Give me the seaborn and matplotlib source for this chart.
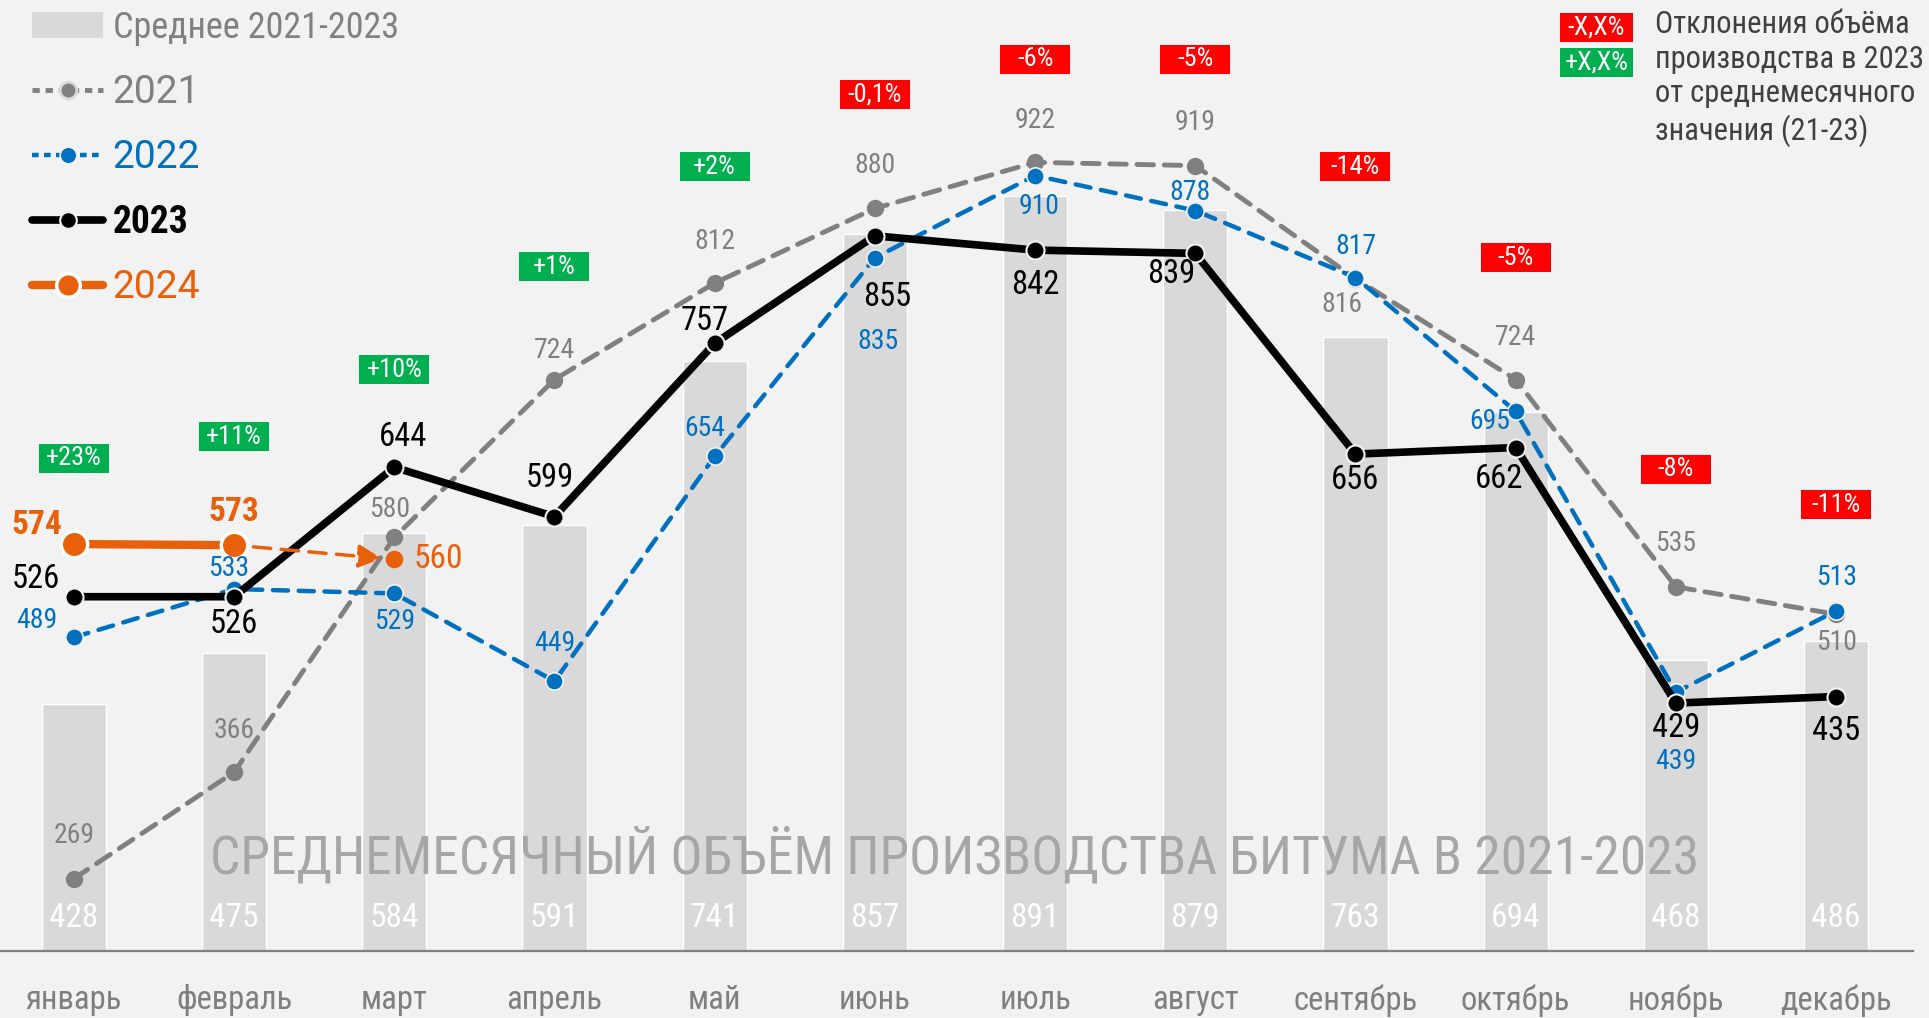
import matplotlib
matplotlib.use("Agg")
import matplotlib.pyplot as plt
import seaborn as sns
import numpy as np
import pandas as pd
from matplotlib import font_manager as fm
from matplotlib.patches import Rectangle, Patch
from matplotlib.lines import Line2D

# --- data ---
months = ["январь", "февраль", "март", "апрель", "май", "июнь",
          "июль", "август", "сентябрь", "октябрь", "ноябрь", "декабрь"]
avg_2021_2023 = [428, 475, 584, 591, 741, 857, 891, 879, 763, 694, 468, 486]
v2021 = [269, 366, 580, 724, 812, 880, 922, 919, 816, 724, 535, 510]
v2022 = [489, 533, 529, 449, 654, 835, 910, 878, 817, 695, 439, 513]
v2023 = [526, 526, 644, 599, 757, 855, 842, 839, 656, 662, 429, 435]
v2024 = [574, 573]
v2024_forecast = [560]
deviation = ["+23%", "+11%", "+10%", "+1%", "+2%", "-0,1%",
             "-6%", "-5%", "-14%", "-5%", "-8%", "-11%"]

# label offsets (dx, dy) in points, layout only
off_2021 = [(0, 31), (0, 30), (-3, 20), (0, 21), (0, 30), (0, 31),
            (0, 30), (0, 31), (-10, -19), (0, 30), (0, 31), (0, -20)]
off_2022 = [(-27, 12), (-4, 15), (0, -20), (0, 27), (-7, 20), (2, -60),
            (3, -22), (-4, 13), (0, 22), (-19, -7), (0, -50), (0, 24)]
off_2023 = [(-27, 13), (0, -20), (6, 22), (-3, 28), (-7, 16), (9, -44),
            (0, -25), (-17, -15), (0, -19), (-12, -23), (0, -18), (0, -25)]
off_2024 = [(-27, 14), (0, 24)]
# badge lift above the highest point of the month (axis units), layout only
badge_lift = [78, 99, 89, 103, 106, 104, 94, 97, 101, 111, 107, 97]

BG = "#f2f2f2"
GRAY = "#808080"
BLUE = "#0070c0"
ORANGE = "#e8600a"
BAR = "#d9d9d9"
RED = "#ff0000"
GREEN = "#00b050"

installed = {f.name for f in fm.fontManager.ttflist}
narrow_name = next((n for n in ["Roboto Condensed", "PT Sans Narrow",
                                "Fira Sans Condensed", "IBM Plex Sans Condensed",
                                "Ubuntu Condensed"] if n in installed), "DejaVu Sans")
NARROW = [narrow_name, "DejaVu Sans"]
REGULAR = ["Roboto", "DejaVu Sans"]

sns.set_theme(style="white")
plt.rcParams["font.family"] = NARROW

fig = plt.figure(figsize=(19.29, 10.18), dpi=100, facecolor=BG)
ax = fig.add_axes([0, 67 / 1018, 1, 951 / 1018])
ax.set_facecolor(BG)
x = np.arange(len(months))

df = pd.DataFrame({"month": months, "avg": avg_2021_2023})
sns.barplot(data=df, x="month", y="avg", color=BAR, saturation=1,
            width=0.4, ax=ax, zorder=1)

# average values inside the bars
for i, v in enumerate(avg_2021_2023):
    ax.text(i, 233, str(v), color="white", fontsize=24, ha="center",
            va="center", zorder=2)

ax.text(5.5, 290, "СРЕДНЕМЕСЯЧНЫЙ ОБЪЁМ ПРОИЗВОДСТВА БИТУМА В 2021-2023",
        color="#a6a6a6", fontsize=38.5, ha="center", va="center", zorder=2)

# lines
sns.lineplot(x=x, y=v2021, color=GRAY, lw=3.5, linestyle=(0, (3.4, 2.2)),
             dash_capstyle="round", marker="o", ms=12.5, mec=GRAY, mew=0,
             ax=ax, zorder=3)
sns.lineplot(x=x, y=v2022, color=BLUE, lw=3.2, linestyle=(0, (3.4, 2.4)),
             dash_capstyle="round", marker="o", ms=12.5, mec=BG, mew=1.2,
             ax=ax, zorder=4)
sns.lineplot(x=x, y=v2023, color="black", lw=5.5, marker="o", ms=13,
             mec=BG, mew=1.5, ax=ax, zorder=5)
sns.lineplot(x=x[:2], y=v2024, color=ORANGE, lw=6, marker="o", ms=19,
             mec="white", mew=2.5, ax=ax, zorder=6)
sns.scatterplot(x=x[2:3], y=v2024_forecast, color=ORANGE, s=160,
                linewidth=0, ax=ax, zorder=6)
ax.annotate("", xy=(2, v2024_forecast[0]), xytext=(1, v2024[-1]),
            arrowprops=dict(arrowstyle="-|>,head_length=0.7,head_width=0.35",
                            color=ORANGE, lw=2.5, linestyle=(0, (5, 3)),
                            shrinkA=14, shrinkB=9, mutation_scale=20),
            zorder=6)

# point labels
def put_labels(values, offsets, color, size, weight="normal"):
    for i, (v, (dx, dy)) in enumerate(zip(values, offsets)):
        ax.annotate(str(v), (i, v), xytext=(dx, dy), textcoords="offset points",
                    ha="center", va="center", color=color, fontsize=size,
                    fontweight=weight, zorder=7)

put_labels(v2021, off_2021, GRAY, 20)
put_labels(v2022, off_2022, BLUE, 20)
put_labels(v2023, off_2023, "black", 23.5)
put_labels(v2024, off_2024, ORANGE, 24, "bold")
ax.annotate(str(v2024_forecast[0]), (2, v2024_forecast[0]), xytext=(14, 0),
            textcoords="offset points", ha="left", va="center", color=ORANGE,
            fontsize=24, zorder=7)

# deviation badges: fixed-size boxes (about 70 x 29 px)
bw, bh = 0.437, 26.4
for i, lab in enumerate(deviation):
    top = max(v2021[i], v2022[i], v2023[i], *(v2024[i:i + 1]))
    yc = top + badge_lift[i]
    col = RED if lab.startswith("-") else GREEN
    ax.add_patch(Rectangle((i - bw / 2, yc - bh / 2), bw, bh, color=col,
                           lw=0, zorder=8))
    ax.text(i, yc, lab, color="white", fontsize=19, ha="center", va="center",
            zorder=9)

# axes cosmetics
ax.set_xlim(-0.461, 11.58)
ax.set_ylim(203, 1070)
ax.set_xlabel("")
ax.set_ylabel("")
ax.set_yticks([])
ax.set_xticks(x)
ax.set_xticklabels(months, color="#7f7f7f", fontsize=23.5)
ax.tick_params(axis="x", length=0, pad=24)
for s in ["left", "top", "right"]:
    ax.spines[s].set_visible(False)
ax.spines["bottom"].set_color(GRAY)
ax.spines["bottom"].set_linewidth(1.6)
ax.spines["bottom"].set_bounds(-0.461, 11.48)

# legend (top left)
handles = [
    Patch(facecolor=BAR, edgecolor="none"),
    Line2D([], [], color=GRAY, lw=3.5, ls=(0, (1.5, 1.2)), marker="o", ms=12,
           mec="#d9d9d9", mew=2),
    Line2D([], [], color=BLUE, lw=3.2, ls=(0, (1.5, 1.2)), marker="o", ms=12,
           mec=BG, mew=1.2),
    Line2D([], [], color="black", lw=5.5, marker="o", ms=12, mec=BG, mew=1.5),
    Line2D([], [], color=ORANGE, lw=6, marker="o", ms=17, mec="white", mew=2.5),
]
labels = ["Среднее 2021-2023", "2021", "2022", "2023", "2024"]
leg = ax.legend(handles, labels, loc="upper left",
                bbox_to_anchor=(32 / 1929, 1 - 10 / 1018),
                bbox_transform=fig.transFigure, frameon=False, fontsize=27,
                handlelength=1.9, handletextpad=0.25, labelspacing=0.75,
                borderpad=0, borderaxespad=0, numpoints=1)
texts = leg.get_texts()
texts[0].set_color(GRAY)
texts[0].set_fontsize(26)
texts[1].set_color(GRAY)
texts[1].set_fontfamily(REGULAR)
texts[1].set_fontsize(28)
texts[2].set_color(BLUE)
texts[2].set_fontfamily(REGULAR)
texts[2].set_fontsize(28)
texts[3].set_color("black")
texts[3].set_fontweight("bold")
texts[4].set_color(ORANGE)
texts[4].set_fontfamily(REGULAR)
texts[4].set_fontsize(28)

# legend for badges (top right)
for k, (lab, col) in enumerate([("-X,X%", RED), ("+X,X%", GREEN)]):
    y0 = 13 + 35 * k
    fig.add_artist(Rectangle((1560 / 1929, 1 - (y0 + 29) / 1018), 73 / 1929,
                             29 / 1018, transform=fig.transFigure, color=col,
                             lw=0))
    fig.text((1560 + 36.5) / 1929, 1 - (y0 + 14.5) / 1018, lab, color="white",
             ha="center", va="center", fontsize=19)
fig.text(1655 / 1929, 1 - 10 / 1018,
         "Отклонения объёма\nпроизводства в 2023\nот среднемесячного\nзначения (21-23)",
         ha="left", va="top", fontsize=22, color="#404040", linespacing=1.25)

fig.savefig("out.png", dpi=100, facecolor=BG)
